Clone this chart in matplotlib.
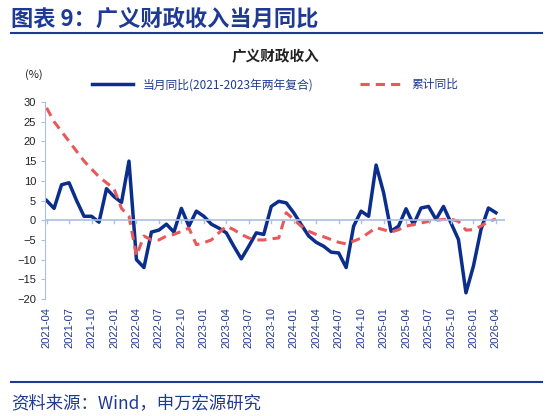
import matplotlib
matplotlib.use("Agg")
import matplotlib.pyplot as plt
import numpy as np

plt.rcParams["font.family"] = ["Noto Sans CJK SC", "DejaVu Sans"]

# monthly, 2021-04 .. 2026-04
months = [f"{2021 + (3 + i) // 12}-{(3 + i) % 12 + 1:02d}" for i in range(61)]
monthly_yoy = [5, 3, 9, 9.5, 5, 1, 1, -0.5, 8, 6, 4.5, 15, -10, -12, -3, -2.5,
               -1, -3, 3, -1.5, 2.3, 1, -1, -2, -3.2, -6.6, -9.8, -6.6, -3.2, -3.6,
               3.5, 4.8, 4.4, 1.9, -1.1, -4, -5.6, -6.6, -8.1, -8.3, -12, -1.5,
               2.3, 1, 14, 7, -2.8, -1.5, 2.9, -1.1, 3.1, 3.5, 0.2, 3.5, -0.7,
               -4.9, -18.4, -11.6, -2.4, 3.1, 1.9]
cum_yoy = [28.5, 25, 22.5, 20, 17.5, 15, 13, 11, 9.5, 8, 3, 1, -9, -4, -5, -5,
           -4, -3.6, -2.8, -2, -6.2, -5.7, -5, -3.2, -1.5, -2.4, -3.6, -4.5, -5,
           -5, -4.7, -4.5, 1.9, 0.2, -1.5, -2.8, -3.6, -4.2, -4.9, -5.6, -6,
           -5.3, -4.5, -3.2, -1.9, -2.4, -3, -2.4, -1.5, -1.1, -0.7, -0.3, 0,
           0.2, 0.3, -0.3, -2.5, -2.4, -1.5, -0.3, 0.3]

navy = "#0B2E8C"
text_c = "#1F3A93"
axis_c = "#A9BFE3"
red = "#E8595C"

fig = plt.figure(figsize=(5.5, 4.16), dpi=100)
fig.text(0.02, 0.955, "图表 9：广义财政收入当月同比", fontsize=16, fontweight="bold",
         color=text_c, va="center")
fig.add_artist(plt.Line2D([0.02, 0.985], [0.921, 0.921], color=text_c, lw=1.5))
fig.add_artist(plt.Line2D([0.02, 0.985], [0.082, 0.082], color=text_c, lw=1.5))
fig.text(0.02, 0.03, "资料来源：Wind，申万宏源研究", fontsize=12.5, color=text_c, va="center")
fig.text(0.5, 0.865, "广义财政收入", fontsize=10.5, fontweight="bold", color="#222222",
         ha="center", va="center")
fig.text(0.045, 0.822, "(%)", fontsize=8, color="#222222", va="center")

ax = fig.add_axes([0.082, 0.281, 0.836, 0.474])
x = np.arange(len(months))
ax.plot(x, monthly_yoy, color=navy, lw=2.5, label="当月同比(2021-2023年两年复合)",
        solid_joinstyle="round")
ax.plot(x, cum_yoy, color=red, lw=2.2, ls=(0, (3, 2)), label="累计同比")
ax.axhline(0, color=axis_c, lw=1.2)
ax.set_xlim(-0.2, 61.2)
ax.set_ylim(-20, 30)
ax.set_yticks(range(-20, 31, 5))
ax.set_xticks(x[::3])
ax.set_xticklabels(months[::3], rotation=90, fontsize=8, color=text_c,
                   family=["Liberation Sans", "DejaVu Sans"])
for lab in ax.get_yticklabels():
    lab.set_fontsize(8)
    lab.set_family(["Liberation Sans", "DejaVu Sans"])
ax.tick_params(axis="y", colors="#222222", length=3, color=axis_c)
ax.tick_params(axis="x", length=0, pad=6)
for s in ["top", "right", "bottom"]:
    ax.spines[s].set_visible(False)
ax.spines["left"].set_color(axis_c)
for xi in x[::3]:
    ax.plot([xi, xi], [0, -0.8], color=axis_c, lw=1)

ax.legend(loc="lower center", bbox_to_anchor=(0.5, 1.0), ncol=2, frameon=False,
          fontsize=8.5, labelcolor=text_c, handlelength=3.5, columnspacing=4)

fig.savefig("out.png", dpi=100)
